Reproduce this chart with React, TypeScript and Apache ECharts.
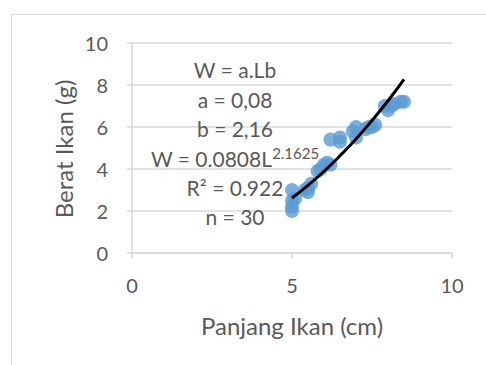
import React, { useEffect, useRef } from "react";
import * as echarts from "echarts";

const lengthCm = [5.0, 5.0, 5.0, 5.0, 5.1, 5.4, 5.5, 5.6, 5.5, 5.8, 5.9, 6.0, 6.2, 6.2, 6.5, 6.5, 6.9, 7.0, 7.0, 7.4, 7.5, 7.6, 7.9, 8.0, 8.1, 8.2, 8.4, 8.5, 6.1, 7.3];
const weightG = [3.0, 2.5, 2.2, 2.0, 2.6, 3.0, 3.1, 3.3, 2.9, 3.9, 4.0, 4.2, 4.2, 5.4, 5.5, 5.3, 5.8, 6.0, 5.5, 6.0, 6.0, 6.1, 7.0, 6.8, 7.0, 7.1, 7.2, 7.2, 4.3, 5.9];
const trendX = [5.0, 5.5, 6.0, 6.5, 7.0, 7.5, 8.0, 8.5];
const trendY = [2.62, 3.22, 3.89, 4.63, 5.43, 6.31, 7.25, 8.27];
const xTicks = [0, 5, 10];
const yTicks = [0, 2, 4, 6, 8, 10];
const annotationLines = ["W = a.Lb", "a = 0,08", "b = 2,16", "W = 0.0808L", "R² = 0.922", "n = 30"];
const exponentText = "2.1625";

const FONT = "Lato, 'Open Sans', sans-serif";
const GRAY = "#595959";

export default function App() {
  const ref = useRef<HTMLDivElement>(null);
  useEffect(() => {
    if (!ref.current) return;
    const chart = echarts.init(ref.current, null, { renderer: "svg" });
    const pts = lengthCm.map((x, i) => [x, weightG[i]]);
    const trend = trendX.map((x, i) => [x, trendY[i]]);
    const lineYs = [69, 99, 128, 157, 187, 216];
    const textEls: any[] = annotationLines.map((t, i) => {
      if (i === 3) {
        return {
          type: "text",
          x: 235,
          y: lineYs[i],
          style: {
            text: "{m|" + t + "}{s|" + exponentText + "}",
            align: "center",
            verticalAlign: "middle",
            rich: {
              m: { fontSize: 21, fontFamily: FONT, fill: GRAY, color: GRAY, lineHeight: 24, verticalAlign: "bottom" },
              s: { fontSize: 15, fontFamily: FONT, fill: GRAY, color: GRAY, lineHeight: 24, verticalAlign: "top" },
            },
          },
          z: 100,
        };
      }
      return {
        type: "text",
        x: 235,
        y: lineYs[i],
        style: { text: t, fontSize: 21, fontFamily: FONT, fill: GRAY, align: "center", verticalAlign: "middle" },
        z: 100,
      };
    });
    chart.setOption({
      animation: false,
      backgroundColor: "#ffffff",
      grid: { left: 132, right: 34, top: 43, bottom: 112 },
      xAxis: {
        type: "value",
        min: xTicks[0],
        max: xTicks[xTicks.length - 1],
        interval: 5,
        axisLine: { show: true, lineStyle: { color: "#d9d9d9", width: 1.5 } },
        axisTick: { show: true, length: 5, lineStyle: { color: "#d9d9d9", width: 1.5 } },
        axisLabel: { color: GRAY, fontSize: 20, fontFamily: FONT, margin: 22 },
        splitLine: { show: false },
      },
      yAxis: {
        type: "value",
        min: yTicks[0],
        max: yTicks[yTicks.length - 1],
        interval: 2,
        axisLine: { show: true, lineStyle: { color: "#d9d9d9", width: 1.5 } },
        axisTick: { show: true, length: 5, lineStyle: { color: "#d9d9d9", width: 1.5 } },
        axisLabel: { color: GRAY, fontSize: 20, fontFamily: FONT, margin: 24 },
        splitLine: { show: true, lineStyle: { color: "#d9d9d9", width: 1.5 } },
      },
      series: [
        {
          type: "scatter",
          data: pts,
          symbol: "circle",
          symbolSize: 14,
          itemStyle: { color: "#5B9BD5" },
          z: 2,
        },
        {
          type: "line",
          data: trend,
          smooth: true,
          showSymbol: false,
          lineStyle: { color: "#000000", width: 3 },
          z: 3,
        },
      ],
      graphic: [
        {
          type: "rect",
          shape: { x: 11.5, y: 14.5, width: 520, height: 400 },
          style: { fill: "none", stroke: "#d9d9d9", lineWidth: 1 },
          silent: true,
        },
        {
          type: "text",
          x: 63,
          y: 149,
          rotation: Math.PI / 2,
          style: { text: "Berat Ikan (g)", fontSize: 24, fontFamily: FONT, fill: GRAY, align: "center", verticalAlign: "middle" },
        },
        {
          type: "text",
          x: 292,
          y: 325,
          style: { text: "Panjang Ikan (cm)", fontSize: 24, fontFamily: FONT, fill: GRAY, align: "center", verticalAlign: "middle" },
        },
        ...textEls,
      ],
    });
    return () => chart.dispose();
  }, []);
  return <div ref={ref} style={{ position: "fixed", left: 0, top: 0, width: 486, height: 365 }} />;
}
